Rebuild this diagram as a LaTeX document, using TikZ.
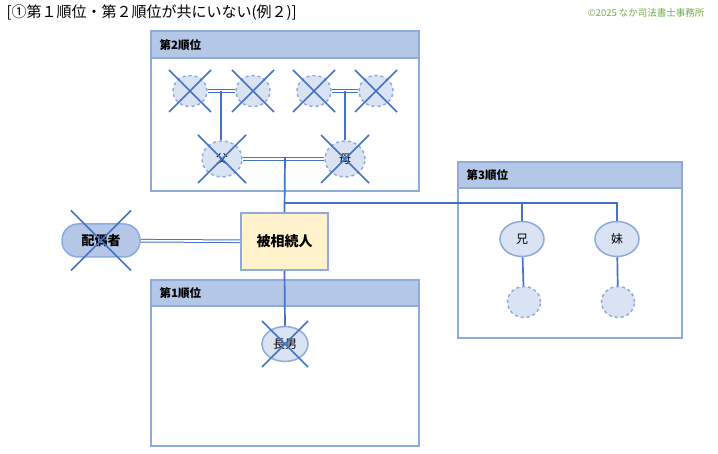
\documentclass[tikz,border=0pt]{standalone}
\usepackage{fontspec}
\setmainfont{Noto Sans CJK JP}
\begin{document}
\begin{tikzpicture}[x=1pt,y=-1pt,
  bd/.style={draw=lb,line width=1.5pt},
  hd/.style={fill=hf,draw=lb,line width=1.5pt},
  per/.style={ellipse,fill=ef,draw=lb,line width=1.5pt,minimum width=38pt,minimum height=32pt,inner sep=0pt,font=\fontsize{12}{12}\selectfont},
  dp/.style={per,dashed,minimum width=34pt,minimum height=31pt},
  ln/.style={draw=ln,line width=1.7pt},
  dl/.style={draw=ln,double=white,double distance=1.6pt,line width=1pt},
  cr/.style={draw=ln,line width=1.6pt},
  lbl/.style={anchor=west,font=\fontsize{11.5}{11.5}\selectfont\bfseries}]
\definecolor{lb}{HTML}{8FAADC}\definecolor{hf}{HTML}{B4C7E7}\definecolor{ef}{HTML}{DAE3F3}
\definecolor{ln}{HTML}{4472C4}\definecolor{gr}{HTML}{70AD47}\definecolor{yf}{HTML}{FFF2CC}
\usetikzlibrary{shapes.geometric}
\useasboundingbox (0,0) rectangle (718,454);
\node[anchor=west,font=\fontsize{15}{15}\selectfont] (title) at (3,13) {[①第１順位・第２順位が共にいない(例２)]};
\node[anchor=east,font=\fontsize{9.5}{9.5}\selectfont,text=gr] (copy) at (708,13) {©2025 なか司法書士事務所};
% boxes
\draw[bd,fill=white] (151,31) rectangle (419,191);
\draw[hd] (151,31) rectangle (419,58);
\node[lbl] (h2) at (156,45) {第2順位};
\draw[bd,fill=white] (458,162) rectangle (682,338);
\draw[hd] (458,162) rectangle (682,188);
\node[lbl] (h3) at (463,175) {第3順位};
\draw[bd,fill=white] (151,280) rectangle (419,446);
\draw[hd] (151,280) rectangle (419,306);
\node[lbl] (h1) at (156,293) {第1順位};
% people
\node[dp] (g1) at (190,91) {};
\node[dp] (g2) at (253,91) {};
\node[dp] (g3) at (314,91) {};
\node[dp] (g4) at (376,91) {};
\node[dp,minimum width=40pt,minimum height=36pt] (fa) at (222,159) {父};
\node[dp,minimum width=40pt,minimum height=36pt] (mo) at (345,159) {母};
\node[draw=lb,fill=yf,line width=1.5pt,minimum width=87pt,minimum height=57pt,font=\fontsize{14}{14}\selectfont\bfseries] (hi) at (284.5,241.5) {被相続人};
\node[fill=hf,draw=lb,line width=1.5pt,rounded corners=16pt,minimum width=78pt,minimum height=33pt,font=\fontsize{13}{13}\selectfont\bfseries] (sp) at (101,240.5) {配偶者};
\node[per,minimum width=46pt,minimum height=35pt] (so) at (285,344) {長男};
\node[per,minimum width=44pt,minimum height=35pt] (br) at (522,239) {兄};
\node[per,minimum width=44pt,minimum height=35pt] (si) at (617,239) {妹};
\node[dp,minimum width=33pt,minimum height=31pt] (b2) at (524,302) {};
\node[dp,minimum width=33pt,minimum height=31pt] (s2) at (618,302) {};
% connections
\draw[dl] (g1) -- (g2); \draw[dl] (g3) -- (g4);
\coordinate (p1) at (221,91); \coordinate (p2) at (345,91);
\draw[ln] (p1) -- (p1|-fa.north); \draw[ln] (p2) -- (p2|-mo.north);
\draw[dl] (fa) -- (mo);
\coordinate (m1) at (285,157);
\draw[ln] (m1) -- (hi.north);
\coordinate (j) at (285,203); \coordinate (k) at (617,203);
\draw[ln] (j) -- (k) -- (si.north);
\draw[ln] (br.north|-j) -- (br.north);
\draw[ln] (br) -- (b2); \draw[ln] (si) -- (s2);
\draw[dl] (sp) -- (hi);
\draw[ln] (hi.south) -- (so.north);
% crosses
\foreach \n/\d in {g1/21,g2/21,g3/21,g4/21,fa/24,mo/24,so/23,sp/30}{
  \draw[cr] ([shift={(-\d,-\d)}]\n.center) -- ([shift={(\d,\d)}]\n.center);
  \draw[cr] ([shift={(\d,-\d)}]\n.center) -- ([shift={(-\d,\d)}]\n.center);
}
\end{tikzpicture}
\end{document}
